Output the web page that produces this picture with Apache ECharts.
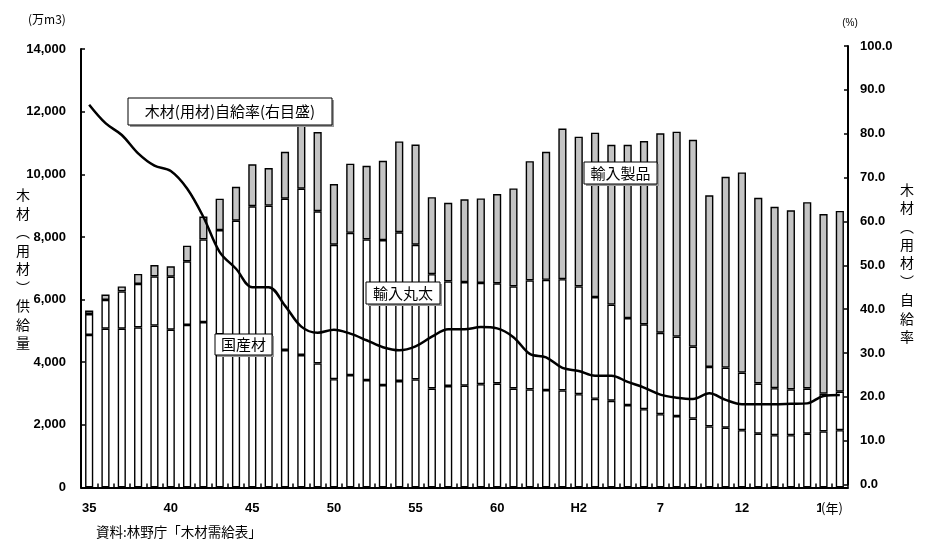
<!DOCTYPE html>
<html><head><meta charset="utf-8">
<script src="https://cdn.jsdelivr.net/npm/echarts@6/dist/echarts.min.js"></script>
<style>html,body{margin:0;padding:0;background:#fff}#c{width:930px;height:540px}</style>
</head><body><div id="c"></div>
<script>
// Years: Showa 35 (1960) ... Heisei 18 (2006)
const categories = ['35','36','37','38','39','40','41','42','43','44','45','46','47','48','49','50','51','52','53','54','55','56','57','58','59','60','61','62','63','元','H2','3','4','5','6','7','8','9','10','11','12','13','14','15','16','17','18'];
// 万m3
const domestic = [4870,5070,5070,5110,5170,5040,5190,5280,4890,4720,4640,4590,4390,4230,3960,3460,3590,3430,3270,3400,3450,3160,3240,3250,3300,3320,3160,3130,3110,3100,2980,2830,2770,2630,2500,2340,2280,2200,1950,1910,1830,1720,1670,1670,1720,1790,1830];
const importedLogs = [670,920,1190,1390,1570,1690,2030,2640,3330,3800,4340,4410,4830,5310,4860,4290,4540,4490,4630,4750,4300,3650,3340,3310,3230,3200,3260,3480,3520,3550,3440,3250,3070,2780,2710,2600,2540,2300,1900,1920,1840,1600,1500,1460,1440,1210,1230];
const importedProducts = [110,170,160,320,360,330,500,730,1000,1080,1340,1200,1500,2060,2530,1940,2210,2350,2530,2900,3200,2460,2510,2640,2700,2850,3130,3810,4090,4810,4780,5250,5100,5530,5850,6370,6540,6600,5480,6090,6390,5930,5790,5720,5950,5730,5770];
// %
const selfSufficiency = [86.6,82.4,79.7,75.5,72.7,71.5,67.5,61.0,53.0,49.2,45.0,45.0,40.8,36.0,34.6,35.3,34.4,32.9,31.3,30.6,31.5,33.7,35.4,35.4,35.9,35.6,33.6,29.8,29.0,26.6,25.9,24.8,24.8,23.4,22.1,20.5,19.8,19.5,20.8,19.3,18.3,18.3,18.3,18.4,18.5,20.2,20.4];
const leftAxisRange = [0, 14000, 2000];
const rightAxisRange = [0, 100, 10];

const NUM = "'Liberation Sans', Arial, sans-serif";
const JP = "'Noto Sans CJK JP', sans-serif";

const chart = echarts.init(document.getElementById('c'), null, {renderer: 'canvas'});
const barBase = {type: 'bar', stack: 'supply', barWidth: '50%', xAxisIndex: 0, yAxisIndex: 0};
const border = {borderColor: '#000', borderWidth: 1.4};

function box(x, y, w, h, text, fs) {
  return [
    {type: 'rect', z: 100, shape: {x: x + 2, y: y + 2, width: w, height: h}, style: {fill: '#999'}},
    {type: 'rect', z: 101, shape: {x: x, y: y, width: w, height: h}, style: {fill: '#fff', stroke: '#000', lineWidth: 1}},
    {type: 'text', z: 102, x: x + w / 2, y: y + h / 2, style: {text: text, fill: '#000', font: fs + 'px ' + JP, align: 'center', verticalAlign: 'middle'}}
  ];
}

const option = {
  animation: false,
  backgroundColor: '#fff',
  grid: [
    {left: 81, right: 82, top: 49, bottom: 52.5},
    {left: 81, right: 82, top: 46, bottom: 55.5}
  ],
  xAxis: [
    {type: 'category', gridIndex: 0, data: categories,
     axisLine: {lineStyle: {color: '#000', width: 2}},
     axisTick: {show: true, inside: true, length: 4, interval: 0, lineStyle: {color: '#000', width: 1.5}},
     axisLabel: {interval: function (i) { return i % 5 === 0; }, margin: 14, color: '#000', fontSize: 13, fontFamily: NUM, fontWeight: 'bold'}},
    {type: 'category', gridIndex: 1, data: categories, show: false}
  ],
  yAxis: [
    {type: 'value', gridIndex: 0, position: 'left', min: leftAxisRange[0], max: leftAxisRange[1], interval: leftAxisRange[2],
     axisLine: {show: true, lineStyle: {color: '#000', width: 2}},
     axisTick: {show: true, inside: true, length: 4, lineStyle: {color: '#000', width: 1.5}},
     splitLine: {show: false},
     axisLabel: {margin: 15, color: '#000', fontSize: 13, fontFamily: NUM, fontWeight: 'bold',
       formatter: function (v) { return v.toLocaleString('en-US'); }}},
    {type: 'value', gridIndex: 1, position: 'right', min: rightAxisRange[0], max: rightAxisRange[1], interval: rightAxisRange[2],
     axisLine: {show: true, lineStyle: {color: '#000', width: 2}},
     axisTick: {show: true, inside: true, length: 4, lineStyle: {color: '#000', width: 1.5}},
     splitLine: {show: false},
     axisLabel: {margin: 12, color: '#000', fontSize: 13, fontFamily: NUM, fontWeight: 'bold',
       formatter: function (v) { return v.toFixed(1); }}}
  ],
  series: [
    Object.assign({}, barBase, {name: '国産材', data: domestic, itemStyle: Object.assign({color: '#fff'}, border)}),
    Object.assign({}, barBase, {name: '輸入丸太', data: importedLogs, itemStyle: Object.assign({color: '#fff'}, border)}),
    Object.assign({}, barBase, {name: '輸入製品', data: importedProducts, itemStyle: Object.assign({color: '#c4c4c4'}, border)}),
    {type: 'line', name: '木材(用材)自給率', xAxisIndex: 1, yAxisIndex: 1, data: selfSufficiency,
     symbol: 'none', smooth: 0.35, z: 5, lineStyle: {color: '#000', width: 2.5}}
  ],
  graphic: [
    {type: 'text', z: 100, x: 28, y: 19, style: {text: '(万m3)', fill: '#000', font: '12px ' + JP, verticalAlign: 'middle'}},
    {type: 'text', z: 100, x: 850, y: 23, style: {text: '(%)', fill: '#000', font: '10px ' + NUM, align: 'center', verticalAlign: 'middle'}},
    {type: 'text', z: 100, x: 23, y: 269, style: {text: '木\n材\n︵\n用\n材\n︶\n供\n給\n量', fill: '#000', font: '14px ' + JP, lineHeight: 18.5, align: 'center', verticalAlign: 'middle'}},
    {type: 'text', z: 100, x: 907, y: 263, style: {text: '木\n材\n︵\n用\n材\n︶\n自\n給\n率', fill: '#000', font: '14px ' + JP, lineHeight: 18.4, align: 'center', verticalAlign: 'middle'}},
    {type: 'text', z: 100, x: 821, y: 508, style: {text: '(年)', fill: '#000', font: '13px ' + JP, backgroundColor: '#fff', verticalAlign: 'middle'}},
    {type: 'text', z: 100, x: 96, y: 532, style: {text: '資料:林野庁「木材需給表」', fill: '#000', font: '13.5px ' + JP, verticalAlign: 'middle'}}
  ].concat(
    box(128, 98, 204, 27, '木材(用材)自給率(右目盛)', 15),
    box(215, 334, 57, 21, '国産材', 15),
    box(366, 282, 74, 22, '輸入丸太', 15),
    box(584, 162, 73, 22, '輸入製品', 15)
  )
};
chart.setOption(option);
</script>
</body></html>
